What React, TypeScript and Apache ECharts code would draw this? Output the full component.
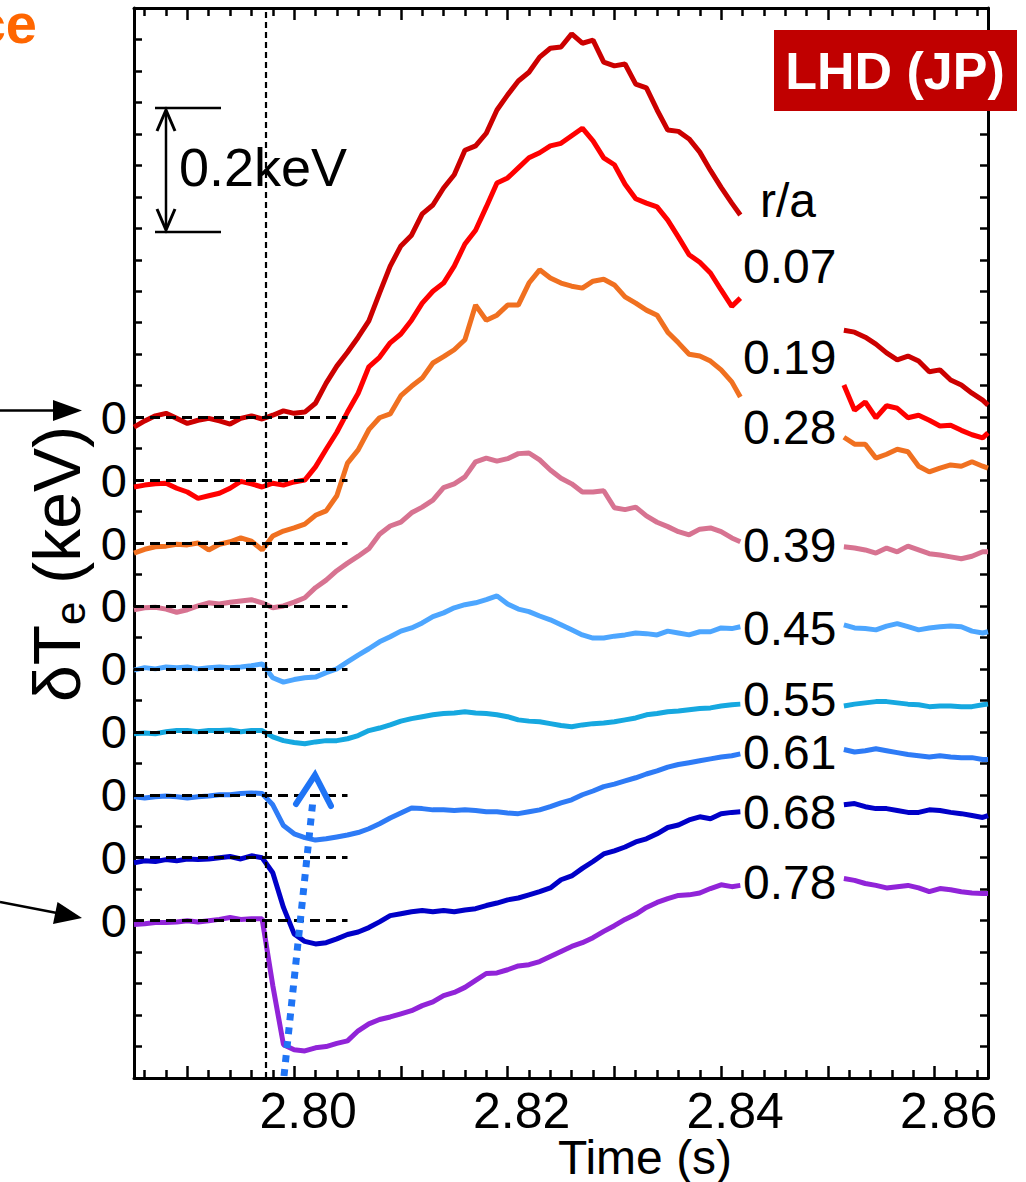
import React, { useEffect, useRef } from 'react';
import * as echarts from 'echarts';

// ---- time grids (s) ----
const T1 = [2.785, 2.786, 2.787, 2.788, 2.789, 2.790, 2.791, 2.792, 2.793, 2.794, 2.795, 2.796, 2.797, 2.798, 2.799, 2.800, 2.801, 2.802, 2.803, 2.804, 2.805, 2.806, 2.807, 2.808, 2.809, 2.810, 2.811, 2.812, 2.813, 2.814, 2.815, 2.816, 2.817, 2.818, 2.819, 2.820, 2.821, 2.822, 2.823, 2.824, 2.825, 2.826, 2.827, 2.828, 2.829, 2.830, 2.831, 2.832, 2.833, 2.834, 2.835, 2.836, 2.837, 2.838, 2.839, 2.840, 2.841, 2.8418];
const T2 = [2.8515, 2.8525, 2.8535, 2.8545, 2.8555, 2.8565, 2.8575, 2.8585, 2.8595, 2.8605, 2.8615, 2.8625, 2.8635, 2.8645, 2.865];

// ---- delta Te (keV) per channel, first segment (T1) and second segment (T2) ----
const R007_A = [-0.016, -0.006, 0.002, 0.006, -0.002, -0.010, -0.005, -0.002, -0.006, -0.011, -0.002, 0.002, -0.003, 0.003, 0.010, 0.006, 0.008, 0.022, 0.054, 0.081, 0.103, 0.127, 0.153, 0.197, 0.240, 0.272, 0.289, 0.323, 0.337, 0.364, 0.385, 0.424, 0.431, 0.451, 0.488, 0.512, 0.534, 0.548, 0.572, 0.586, 0.588, 0.609, 0.594, 0.599, 0.564, 0.558, 0.561, 0.529, 0.523, 0.488, 0.456, 0.454, 0.442, 0.421, 0.392, 0.365, 0.340, 0.321];
const R007_B = [0.138, 0.135, 0.127, 0.116, 0.102, 0.091, 0.097, 0.089, 0.072, 0.075, 0.059, 0.051, 0.038, 0.027, 0.019];
const R019_A = [-0.011, -0.008, -0.006, -0.005, -0.013, -0.019, -0.029, -0.025, -0.021, -0.013, -0.002, -0.006, -0.011, -0.005, -0.008, -0.003, 0.000, 0.021, 0.049, 0.076, 0.108, 0.138, 0.180, 0.195, 0.218, 0.232, 0.254, 0.281, 0.300, 0.313, 0.340, 0.375, 0.397, 0.434, 0.472, 0.480, 0.496, 0.512, 0.520, 0.531, 0.535, 0.547, 0.559, 0.539, 0.512, 0.501, 0.470, 0.447, 0.440, 0.434, 0.413, 0.386, 0.358, 0.346, 0.329, 0.302, 0.276, 0.289];
const R019_B = [0.151, 0.111, 0.124, 0.099, 0.118, 0.114, 0.099, 0.103, 0.095, 0.086, 0.087, 0.079, 0.072, 0.067, 0.075];
const R028_A = [-0.016, -0.010, -0.006, -0.005, -0.002, -0.003, 0.000, -0.011, -0.002, 0.002, 0.008, 0.003, -0.011, 0.011, 0.019, 0.024, 0.030, 0.044, 0.051, 0.075, 0.127, 0.148, 0.180, 0.199, 0.205, 0.234, 0.249, 0.262, 0.286, 0.296, 0.307, 0.323, 0.378, 0.354, 0.362, 0.378, 0.378, 0.413, 0.434, 0.421, 0.413, 0.408, 0.405, 0.416, 0.419, 0.410, 0.391, 0.381, 0.370, 0.362, 0.335, 0.318, 0.300, 0.297, 0.289, 0.275, 0.256, 0.232];
const R028_B = [0.168, 0.157, 0.157, 0.135, 0.141, 0.149, 0.145, 0.122, 0.113, 0.119, 0.124, 0.122, 0.129, 0.122, 0.119];
const R039_A = [-0.006, -0.003, -0.002, -0.005, -0.010, -0.006, 0.000, 0.005, 0.003, 0.006, 0.008, 0.010, 0.005, -0.003, 0.000, 0.006, 0.013, 0.029, 0.041, 0.056, 0.068, 0.079, 0.091, 0.114, 0.127, 0.133, 0.148, 0.157, 0.168, 0.188, 0.194, 0.205, 0.229, 0.235, 0.230, 0.234, 0.242, 0.243, 0.232, 0.216, 0.203, 0.194, 0.181, 0.181, 0.183, 0.156, 0.153, 0.157, 0.143, 0.133, 0.126, 0.118, 0.113, 0.122, 0.124, 0.118, 0.108, 0.102];
const R039_B = [0.094, 0.092, 0.089, 0.084, 0.092, 0.086, 0.095, 0.089, 0.083, 0.081, 0.078, 0.075, 0.079, 0.086, 0.086];
const R045_A = [-0.002, 0.002, 0.000, 0.003, 0.002, 0.003, 0.000, 0.002, 0.003, 0.002, 0.003, 0.005, 0.008, -0.014, -0.021, -0.017, -0.014, -0.013, -0.006, 0.000, 0.011, 0.022, 0.032, 0.043, 0.051, 0.060, 0.065, 0.073, 0.083, 0.089, 0.097, 0.102, 0.105, 0.110, 0.116, 0.103, 0.095, 0.091, 0.084, 0.078, 0.070, 0.062, 0.054, 0.049, 0.049, 0.052, 0.054, 0.057, 0.056, 0.054, 0.060, 0.057, 0.054, 0.059, 0.059, 0.065, 0.064, 0.067];
const R045_B = [0.070, 0.065, 0.064, 0.062, 0.068, 0.072, 0.067, 0.062, 0.065, 0.067, 0.068, 0.067, 0.060, 0.057, 0.059];
const R055_A = [-0.003, -0.002, -0.003, 0.000, 0.002, 0.002, 0.000, 0.002, 0.002, 0.003, 0.000, 0.002, 0.002, -0.008, -0.014, -0.017, -0.019, -0.016, -0.014, -0.014, -0.011, -0.006, 0.002, 0.006, 0.011, 0.017, 0.021, 0.024, 0.027, 0.029, 0.030, 0.032, 0.030, 0.029, 0.027, 0.024, 0.019, 0.017, 0.016, 0.013, 0.010, 0.008, 0.011, 0.013, 0.014, 0.016, 0.019, 0.022, 0.027, 0.029, 0.032, 0.033, 0.035, 0.037, 0.038, 0.041, 0.043, 0.044];
const R055_B = [0.041, 0.044, 0.046, 0.048, 0.048, 0.046, 0.044, 0.043, 0.040, 0.041, 0.041, 0.040, 0.040, 0.043, 0.044];
const R061_A = [-0.003, -0.005, -0.003, -0.002, -0.003, -0.005, -0.003, -0.002, 0.000, 0.000, 0.002, 0.003, 0.002, -0.016, -0.049, -0.062, -0.068, -0.072, -0.070, -0.067, -0.064, -0.060, -0.054, -0.046, -0.037, -0.029, -0.021, -0.022, -0.024, -0.024, -0.025, -0.024, -0.025, -0.027, -0.027, -0.029, -0.030, -0.027, -0.024, -0.019, -0.013, -0.008, 0.000, 0.006, 0.013, 0.017, 0.022, 0.027, 0.033, 0.038, 0.044, 0.048, 0.051, 0.054, 0.057, 0.060, 0.062, 0.065];
const R061_B = [0.072, 0.068, 0.070, 0.073, 0.070, 0.067, 0.064, 0.062, 0.060, 0.062, 0.060, 0.059, 0.059, 0.056, 0.056];
const R068_A = [-0.008, -0.005, -0.006, -0.003, -0.005, -0.002, -0.003, -0.002, 0.000, 0.002, -0.002, 0.003, 0.000, -0.024, -0.079, -0.121, -0.133, -0.137, -0.135, -0.129, -0.122, -0.118, -0.111, -0.102, -0.092, -0.089, -0.086, -0.084, -0.086, -0.084, -0.086, -0.083, -0.081, -0.076, -0.072, -0.067, -0.064, -0.059, -0.054, -0.048, -0.035, -0.029, -0.017, -0.006, 0.006, 0.011, 0.017, 0.025, 0.030, 0.038, 0.048, 0.052, 0.060, 0.065, 0.062, 0.070, 0.072, 0.073];
const R068_B = [0.084, 0.086, 0.081, 0.078, 0.078, 0.075, 0.072, 0.072, 0.076, 0.075, 0.072, 0.070, 0.067, 0.064, 0.067];
const R078_A = [-0.006, -0.005, -0.003, -0.003, -0.002, 0.000, -0.002, 0.000, 0.002, 0.005, 0.002, 0.003, 0.003, -0.103, -0.197, -0.205, -0.207, -0.202, -0.200, -0.195, -0.191, -0.175, -0.164, -0.157, -0.153, -0.148, -0.143, -0.135, -0.129, -0.119, -0.114, -0.106, -0.095, -0.084, -0.083, -0.078, -0.072, -0.070, -0.065, -0.057, -0.049, -0.041, -0.035, -0.027, -0.017, -0.008, 0.002, 0.010, 0.021, 0.029, 0.035, 0.040, 0.041, 0.044, 0.051, 0.057, 0.054, 0.056];
const R078_B = [0.067, 0.064, 0.059, 0.056, 0.052, 0.054, 0.056, 0.052, 0.046, 0.051, 0.049, 0.046, 0.044, 0.043, 0.043];

const RA_LABELS = ['0.07', '0.19', '0.28', '0.39', '0.45', '0.55', '0.61', '0.68', '0.78'];
const OFFSETS = [0.8, 0.7, 0.6, 0.5, 0.4, 0.3, 0.2, 0.1, 0.0];
const SEG_A = [R007_A, R019_A, R028_A, R039_A, R045_A, R055_A, R061_A, R068_A, R078_A];
const SEG_B = [R007_B, R019_B, R028_B, R039_B, R045_B, R055_B, R061_B, R068_B, R078_B];
const COLORS = ['#CC0000', '#FF0000', '#F07020', '#D77391', '#4DA6FF', '#16A8E0', '#2E7BF6', '#0000C8', '#9124D8'];

const X_MIN = 2.785;
const X_MAX = 2.865;
const X_MAJOR_TICKS = [2.79, 2.80, 2.81, 2.82, 2.83, 2.84, 2.85, 2.86];
const X_MINOR_TICKS = [2.786, 2.788, 2.792, 2.794, 2.796, 2.798, 2.802, 2.804, 2.806, 2.808, 2.812, 2.814, 2.816, 2.818, 2.822, 2.824, 2.826, 2.828, 2.832, 2.834, 2.836, 2.838, 2.842, 2.844, 2.846, 2.848, 2.852, 2.854, 2.856, 2.858, 2.862, 2.864];
const X_LABELS = [2.80, 2.82, 2.84, 2.86];
const Y_MIN = -0.25;
const Y_MAX = 1.45;
const Y_INTERVAL = 0.05;
const EVENT_TIME = 2.7973;
const ZERO_DASH_END = 2.805;

// label vertical centres (px) for the r/a column
const RA_LABEL_Y = [266, 357, 427, 545, 628, 699, 752, 812, 882];

const FONT = 'Liberation Sans, Arial, Helvetica, sans-serif';

function buildOption() {
  const series: any[] = [];
  SEG_A.forEach((vals, k) => {
    series.push({
      type: 'line',
      name: RA_LABELS[k],
      xAxisIndex: 0,
      yAxisIndex: 0,
      symbol: 'none',
      showSymbol: false,
      silent: true,
      z: 2,
      lineStyle: { color: COLORS[k], width: 5 },
      data: T1.map((t, i) => [t, OFFSETS[k] + vals[i]]),
    });
    series.push({
      type: 'line',
      name: RA_LABELS[k] + ' b',
      xAxisIndex: 0,
      yAxisIndex: 0,
      symbol: 'none',
      showSymbol: false,
      silent: true,
      z: 2,
      lineStyle: { color: COLORS[k], width: 5 },
      data: T2.map((t, i) => [t, OFFSETS[k] + SEG_B[k][i]]),
    });
  });

  const markData: any[] = OFFSETS.map((off) => [
    { coord: [X_MIN, off] },
    { coord: [ZERO_DASH_END, off] },
  ]);
  markData.push([
    { coord: [EVENT_TIME, Y_MIN], lineStyle: { color: '#000', width: 2.2, type: [6, 4] } },
    { coord: [EVENT_TIME, Y_MAX] },
  ]);

  series.push({
    type: 'line',
    name: 'markers',
    xAxisIndex: 0,
    yAxisIndex: 0,
    data: [],
    z: 5,
    silent: true,
    markLine: {
      silent: true,
      symbol: ['none', 'none'],
      label: { show: false },
      lineStyle: { color: '#000', width: 3, type: [10, 6] },
      emphasis: { disabled: true },
      data: markData,
    },
  });

  const axisLineStyle = { color: '#000', width: 3 };

  const xBase = {
    type: 'value',
    min: X_MIN,
    max: X_MAX,
    splitLine: { show: false },
    gridIndex: 0,
  };

  const graphic: any[] = [];

  // orange partial word top-left
  graphic.push({
    type: 'text', x: 37, y: 23, z: 100,
    style: { text: 'ce', fontSize: 56, fontWeight: 'bold', fontFamily: FONT, fill: '#FF6600', align: 'right', verticalAlign: 'middle' },
  });

  // LHD (JP) box
  graphic.push({
    type: 'rect', z: 100,
    shape: { x: 774, y: 30, width: 243, height: 81 },
    style: { fill: '#C00000' },
  });
  graphic.push({
    type: 'text', x: 895, y: 71, z: 101,
    style: { text: 'LHD (JP)', fontSize: 52, fontWeight: 'bold', fontFamily: FONT, fill: '#fff', align: 'center', verticalAlign: 'middle' },
  });

  // r/a labels
  graphic.push({
    type: 'text', x: 760, y: 200, z: 100,
    style: { text: 'r/a', fontSize: 48, fontFamily: FONT, fill: '#000', align: 'left', verticalAlign: 'middle' },
  });
  RA_LABELS.forEach((lab, k) => {
    graphic.push({
      type: 'text', x: 743, y: RA_LABEL_Y[k], z: 100,
      style: { text: lab, fontSize: 48, fontFamily: FONT, fill: '#000', align: 'left', verticalAlign: 'middle' },
    });
  });

  // scale bar 0.2 keV
  const sbStyle = { stroke: '#000', lineWidth: 2.5, fill: null };
  graphic.push({ type: 'line', z: 100, shape: { x1: 155, y1: 108, x2: 221, y2: 108 }, style: sbStyle });
  graphic.push({ type: 'line', z: 100, shape: { x1: 155, y1: 232, x2: 221, y2: 232 }, style: sbStyle });
  graphic.push({ type: 'line', z: 100, shape: { x1: 166, y1: 111, x2: 166, y2: 229 }, style: sbStyle });
  graphic.push({ type: 'polyline', z: 100, shape: { points: [[157, 131], [166, 110], [175, 131]] }, style: { stroke: '#000', lineWidth: 3, fill: null } });
  graphic.push({ type: 'polyline', z: 100, shape: { points: [[157, 209], [166, 230], [175, 209]] }, style: { stroke: '#000', lineWidth: 3, fill: null } });
  graphic.push({
    type: 'text', x: 179, y: 167, z: 100,
    style: { text: '0.2keV', fontSize: 54, fontFamily: FONT, fill: '#000', align: 'left', verticalAlign: 'middle' },
  });

  // left arrows
  graphic.push({ type: 'line', z: 100, shape: { x1: 0, y1: 410.5, x2: 58, y2: 410.5 }, style: { stroke: '#000', lineWidth: 2.5 } });
  graphic.push({ type: 'polygon', z: 100, shape: { points: [[53, 400], [82, 410.5], [53, 421]] }, style: { fill: '#000' } });
  graphic.push({ type: 'line', z: 100, shape: { x1: 0, y1: 902, x2: 57, y2: 913 }, style: { stroke: '#000', lineWidth: 2.5 } });
  graphic.push({ type: 'polygon', z: 100, shape: { points: [[53, 924], [82, 918], [57.5, 902]] }, style: { fill: '#000' } });

  // y axis title (rotated)
  graphic.push({
    type: 'group', x: 57, y: 702, rotation: Math.PI / 2, z: 100,
    children: [
      { type: 'text', x: 0, y: 0, z: 100, style: { text: 'δT', fontSize: 66, fontFamily: FONT, fill: '#000', align: 'left', verticalAlign: 'middle' } },
      { type: 'text', x: 77, y: 13, z: 100, style: { text: 'e', fontSize: 42, fontFamily: FONT, fill: '#000', align: 'left', verticalAlign: 'middle' } },
      { type: 'text', x: 100, y: 0, z: 100, style: { text: ' (keV)', fontSize: 66, fontFamily: FONT, fill: '#000', align: 'left', verticalAlign: 'middle' } },
    ],
  });

  // x axis title
  graphic.push({
    type: 'text', x: 645, y: 1157, z: 100,
    style: { text: 'Time (s)', fontSize: 48, fontFamily: FONT, fill: '#000', align: 'center', verticalAlign: 'middle' },
  });

  // blue dotted arrow
  graphic.push({
    type: 'line', z: 100,
    shape: { x1: 284, y1: 1076, x2: 313, y2: 800 },
    style: { stroke: '#1F74F5', lineWidth: 7, lineDash: [7, 7], lineCap: 'butt' },
  });
  graphic.push({
    type: 'polyline', z: 100,
    shape: { points: [[296, 804], [315, 775], [331, 806]] },
    style: { stroke: '#1F74F5', lineWidth: 6, fill: null, lineCap: 'round', lineJoin: 'miter' },
  });

  return {
    animation: false,
    backgroundColor: '#fff',
    grid: { left: 134, right: 38, top: 8, bottom: 104, containLabel: false },
    xAxis: [
      {
        ...xBase,
        position: 'bottom',
        axisLine: { show: true, onZero: false, lineStyle: axisLineStyle },
        axisTick: { show: true, inside: true, length: 12, lineStyle: { color: '#000', width: 2.5 }, customValues: X_MAJOR_TICKS },
        axisLabel: {
          show: true,
          customValues: X_LABELS,
          formatter: (v: number) => v.toFixed(2),
          fontSize: 50,
          fontFamily: FONT,
          color: '#000',
          margin: 33,
          verticalAlign: 'middle',
          padding: [0, 0, 0, 28],
        },
      },
      {
        ...xBase,
        position: 'bottom',
        axisLine: { show: false, onZero: false },
        axisTick: { show: true, inside: true, length: 8, lineStyle: { color: '#000', width: 2.5 }, customValues: X_MINOR_TICKS },
        axisLabel: { show: false },
      },
      {
        ...xBase,
        position: 'top',
        axisLine: { show: true, onZero: false, lineStyle: axisLineStyle },
        axisTick: { show: true, inside: true, length: 12, lineStyle: { color: '#000', width: 2.5 }, customValues: X_MAJOR_TICKS },
        axisLabel: { show: false },
      },
      {
        ...xBase,
        position: 'top',
        axisLine: { show: false, onZero: false },
        axisTick: { show: true, inside: true, length: 8, lineStyle: { color: '#000', width: 2.5 }, customValues: X_MINOR_TICKS },
        axisLabel: { show: false },
      },
    ],
    yAxis: [
      {
        type: 'value',
        position: 'left',
        min: Y_MIN,
        max: Y_MAX,
        interval: Y_INTERVAL,
        splitLine: { show: false },
        axisLine: { show: true, onZero: false, lineStyle: axisLineStyle },
        axisTick: { show: true, inside: true, length: 8, lineStyle: { color: '#000', width: 2.5 } },
        axisLabel: {
          show: true,
          customValues: OFFSETS,
          formatter: () => '0',
          fontSize: 47,
          fontFamily: FONT,
          color: '#000',
          margin: 7,
        },
      },
      {
        type: 'value',
        position: 'right',
        min: Y_MIN,
        max: Y_MAX,
        interval: Y_INTERVAL,
        splitLine: { show: false },
        axisLine: { show: true, onZero: false, lineStyle: axisLineStyle },
        axisTick: { show: true, inside: true, length: 8, lineStyle: { color: '#000', width: 2.5 } },
        axisLabel: { show: false },
      },
    ],
    series,
    graphic,
  };
}

export default function App() {
  const ref = useRef<HTMLDivElement | null>(null);
  useEffect(() => {
    document.body.style.margin = '0';
    if (!ref.current) return;
    const chart = echarts.init(ref.current, undefined, { renderer: 'svg' });
    chart.setOption(buildOption() as any);
    return () => {
      chart.dispose();
    };
  }, []);
  return <div ref={ref} style={{ width: 1026, height: 1182, background: '#fff' }} />;
}
